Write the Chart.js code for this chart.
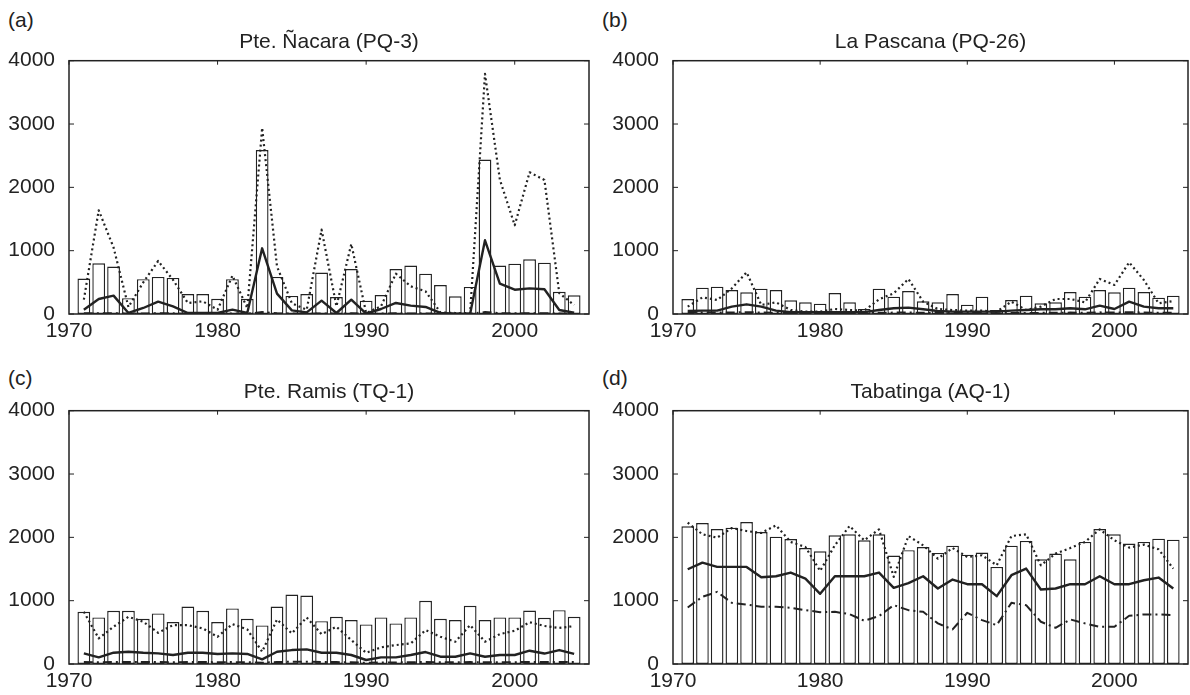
<!DOCTYPE html>
<html>
<head>
<meta charset="utf-8">
<script src="https://cdn.jsdelivr.net/npm/chart.js@4.4.1/dist/chart.umd.min.js"></script>
<style>
  body { margin: 0; background: #fff; width: 1190px; height: 695px; position: relative; overflow: hidden; }
  canvas { position: absolute; }
  .letra { position: absolute; font: 21px "Liberation Sans", Arial, sans-serif; line-height: 24px; color: #222; }
</style>
</head>
<body>
<div class="letra" style="left:8px; top:8px">(a)</div>
<div class="letra" style="left:602px; top:8px">(b)</div>
<div class="letra" style="left:8px; top:366px">(c)</div>
<div class="letra" style="left:602px; top:366px">(d)</div>
<canvas id="panel_a" width="595" height="345" style="left:0; top:0"></canvas>
<canvas id="panel_b" width="590" height="345" style="left:600px; top:0"></canvas>
<canvas id="panel_c" width="595" height="345" style="left:0; top:350px"></canvas>
<canvas id="panel_d" width="590" height="345" style="left:600px; top:350px"></canvas>
<script>
const years = [1971, 1972, 1973, 1974, 1975, 1976, 1977, 1978, 1979, 1980, 1981, 1982, 1983, 1984, 1985, 1986, 1987,
               1988, 1989, 1990, 1991, 1992, 1993, 1994, 1995, 1996, 1997, 1998, 1999, 2000, 2001, 2002, 2003, 2004]
const yTicks = [0, 1000, 2000, 3000, 4000]
const xTicks = [1970, 1980, 1990, 2000]

// Pte. Ñacara (PQ-3)
const barsA  = [560, 800, 750, 250, 550, 585, 570, 315, 315, 240, 550, 240, 2590, 585, 285, 316, 655,
                268, 711, 211, 300, 711, 764, 637, 458, 279, 427, 2438, 764, 795, 864, 810, 350, 295]
const dotA   = [226, 1638, 1050, 110, 500, 837, 540, 174, 200, 68, 605, 95, 2938, 750, 170, 68, 1332,
                121, 1106, 16, 121, 637, 437, 358, 26, 16, 16, 3791, 2122, 1401, 2238, 2117, 330, 142]
const solidA = [68, 237, 290, 16, 95, 195, 121, 16, 16, 16, 68, 16, 1037, 321, 58, 26, 211,
                16, 226, 5, 79, 174, 132, 111, 16, 5, 5, 1164, 479, 384, 405, 390, 63, 20]
const dashA  = [10, 12, 14, 5, 8, 12, 10, 5, 5, 5, 8, 5, 30, 12, 6, 5, 10,
                5, 10, 3, 6, 10, 8, 8, 4, 3, 3, 30, 14, 12, 12, 12, 6, 4]

// La Pascana (PQ-26)
const barsB  = [237, 416, 432, 379, 342, 400, 379, 216, 184, 163, 332, 184, 79, 400, 274, 363, 200,
                184, 316, 148, 274, 63, 221, 290, 169, 184, 347, 274, 379, 342, 416, 347, 258, 290]
const dotB   = [116, 263, 221, 405, 658, 142, 184, 63, 37, 37, 79, 63, 53, 232, 327, 553, 195,
                79, 63, 53, 53, 37, 195, 63, 116, 237, 237, 184, 553, 458, 816, 537, 169, 205]
const solidB = [47, 53, 53, 116, 153, 116, 53, 30, 30, 30, 30, 30, 30, 63, 90, 100, 74,
                47, 37, 37, 37, 37, 53, 63, 74, 74, 90, 74, 132, 79, 195, 116, 90, 90]
const dashB  = [20, 22, 22, 25, 28, 24, 20, 15, 14, 14, 16, 15, 14, 20, 22, 24, 18,
                16, 15, 14, 14, 13, 16, 16, 18, 20, 22, 20, 26, 22, 28, 24, 20, 20]

// Pte. Ramis (TQ-1)
const barsC  = [824, 735, 840, 840, 714, 798, 662, 908, 840, 662, 877, 714, 609, 908, 1097, 1082, 677,
                745, 693, 625, 735, 641, 735, 998, 714, 693, 919, 693, 735, 735, 845, 730, 850, 745]
const dotC   = [824, 404, 588, 745, 667, 493, 614, 614, 562, 430, 630, 546, 194, 703, 483, 735, 472,
                588, 378, 178, 262, 299, 325, 535, 430, 352, 614, 352, 472, 525, 660, 600, 570, 598]
const solidC = [168, 105, 178, 194, 178, 168, 142, 178, 178, 158, 168, 158, 74, 194, 220, 231, 178,
                178, 142, 63, 105, 105, 142, 189, 115, 115, 168, 115, 142, 142, 210, 165, 220, 160]
const dashC  = [30, 28, 32, 32, 30, 30, 28, 32, 32, 28, 30, 28, 20, 32, 35, 36, 30,
                30, 28, 18, 24, 24, 28, 32, 26, 26, 30, 26, 28, 28, 32, 30, 32, 30]

// Tabatinga (AQ-1)
const barsD  = [2174, 2226, 2132, 2153, 2242, 2084, 2011, 1974, 1832, 1780, 2032, 2048, 1953, 2048, 1712, 1798, 1848,
                1754, 1869, 1727, 1759, 1533, 1869, 1943, 1654, 1743, 1654, 1927, 2132, 2048, 1901, 1927, 1979, 1964]
const dotD   = [2231, 2048, 1995, 2147, 2100, 2069, 2189, 1927, 1848, 1470, 1874, 2179, 1953, 2126, 1376, 2021, 1874,
                1664, 1832, 1690, 1717, 1559, 2021, 2048, 1559, 1743, 1832, 1927, 2126, 1953, 1838, 1885, 1811, 1507]
const solidD = [1496, 1601, 1533, 1533, 1533, 1370, 1386, 1444, 1349, 1108, 1386, 1386, 1386, 1444, 1202, 1278, 1386,
                1192, 1334, 1260, 1260, 1071, 1402, 1507, 1176, 1192, 1260, 1260, 1386, 1260, 1260, 1323, 1365, 1192]
const dashD  = [893, 1061, 1139, 966, 940, 903, 903, 887, 850, 819, 824, 788, 683, 756, 929, 850, 824,
                641, 546, 809, 693, 614, 966, 929, 667, 572, 704, 641, 588, 588, 761, 782, 782, 772]

const fuente = { family: '"Liberation Sans", Arial, sans-serif', size: 21, weight: 'normal' }
const tinta  = '#222'

// caja del grafico y ticks hacia adentro
const caja = {
    id: 'caja',
    afterDatasetsDraw(chart) {
        const { ctx, chartArea: a, scales: { x, y } } = chart
        ctx.save()
        ctx.strokeStyle = tinta
        ctx.lineWidth = 1.5
        ctx.strokeRect(a.left, a.top, a.right - a.left, a.bottom - a.top)
        ctx.lineWidth = 1
        ctx.beginPath()
        yTicks.forEach((v) => {
            const py = y.getPixelForValue(v)
            ctx.moveTo(a.left, py); ctx.lineTo(a.left + 5, py)
            ctx.moveTo(a.right, py); ctx.lineTo(a.right - 5, py)
        })
        xTicks.forEach((v) => {
            const px = x.getPixelForValue(v)
            ctx.moveTo(px, a.top); ctx.lineTo(px, a.top + 4)
        })
        ctx.stroke()
        ctx.restore()
    }
}

const serie = function (values) {
    return years.map((yr, i) => ({ x: yr, y: values[i] }))
}

const grafico = function (id, titulo, bars, dot, solid, dash, yWidth, padRight) {
    const lineas = [
        { type: 'line', data: serie(dot), borderColor: tinta, borderWidth: 2.2, borderDash: [2, 3], borderJoinStyle: 'round', pointRadius: 0, order: 1 },
        { type: 'line', data: serie(solid), borderColor: tinta, borderWidth: 2.4, borderJoinStyle: 'round', pointRadius: 0, order: 0 },
        { type: 'line', data: serie(dash), borderColor: tinta, borderWidth: 2, borderDash: [9, 4, 2, 4], borderJoinStyle: 'round', pointRadius: 0, order: 2 }
    ]
    const barras = { type: 'bar', data: serie(bars), backgroundColor: '#fff', borderColor: '#222', borderWidth: 1.4,
                     borderSkipped: false, barPercentage: 0.86, categoryPercentage: 1, order: 10 }
    return new Chart(document.getElementById(id), {
        type: 'bar',
        data: { datasets: [barras].concat(lineas) },
        options: {
            responsive: false,
            animation: false,
            layout: { padding: { left: 0, right: padRight, top: 0, bottom: 0 } },
            plugins: {
                legend: { display: false },
                tooltip: { enabled: false },
                title: { display: true, text: titulo, fullSize: false, color: tinta, font: fuente, padding: { top: 30, bottom: 5.5 } }
            },
            scales: {
                x: {
                    type: 'linear', min: 1970, max: 2005, offset: false,
                    grid: { display: false, drawTicks: false }, border: { display: false },
                    ticks: { stepSize: 10, includeBounds: false, autoSkip: false, maxRotation: 0, color: tinta, font: fuente, padding: 5,
                             callback: (v) => String(v) },
                    afterFit: (s) => { s.height = 31 }
                },
                y: {
                    min: 0, max: 4000,
                    grid: { display: false, drawTicks: false }, border: { display: false },
                    ticks: { stepSize: 1000, color: tinta, font: fuente, padding: 14, callback: (v) => String(v) },
                    afterFit: (s) => { s.width = yWidth }
                }
            }
        },
        plugins: [caja]
    })
}

grafico('panel_a', 'Pte. Ñacara (PQ-3)', barsA, dotA, solidA, dashA, 69, 6)
grafico('panel_b', 'La Pascana (PQ-26)', barsB, dotB, solidB, dashB, 73, 2)
grafico('panel_c', 'Pte. Ramis (TQ-1)', barsC, dotC, solidC, dashC, 69, 6)
grafico('panel_d', 'Tabatinga (AQ-1)', barsD, dotD, solidD, dashD, 73, 2)
</script>
</body>
</html>
